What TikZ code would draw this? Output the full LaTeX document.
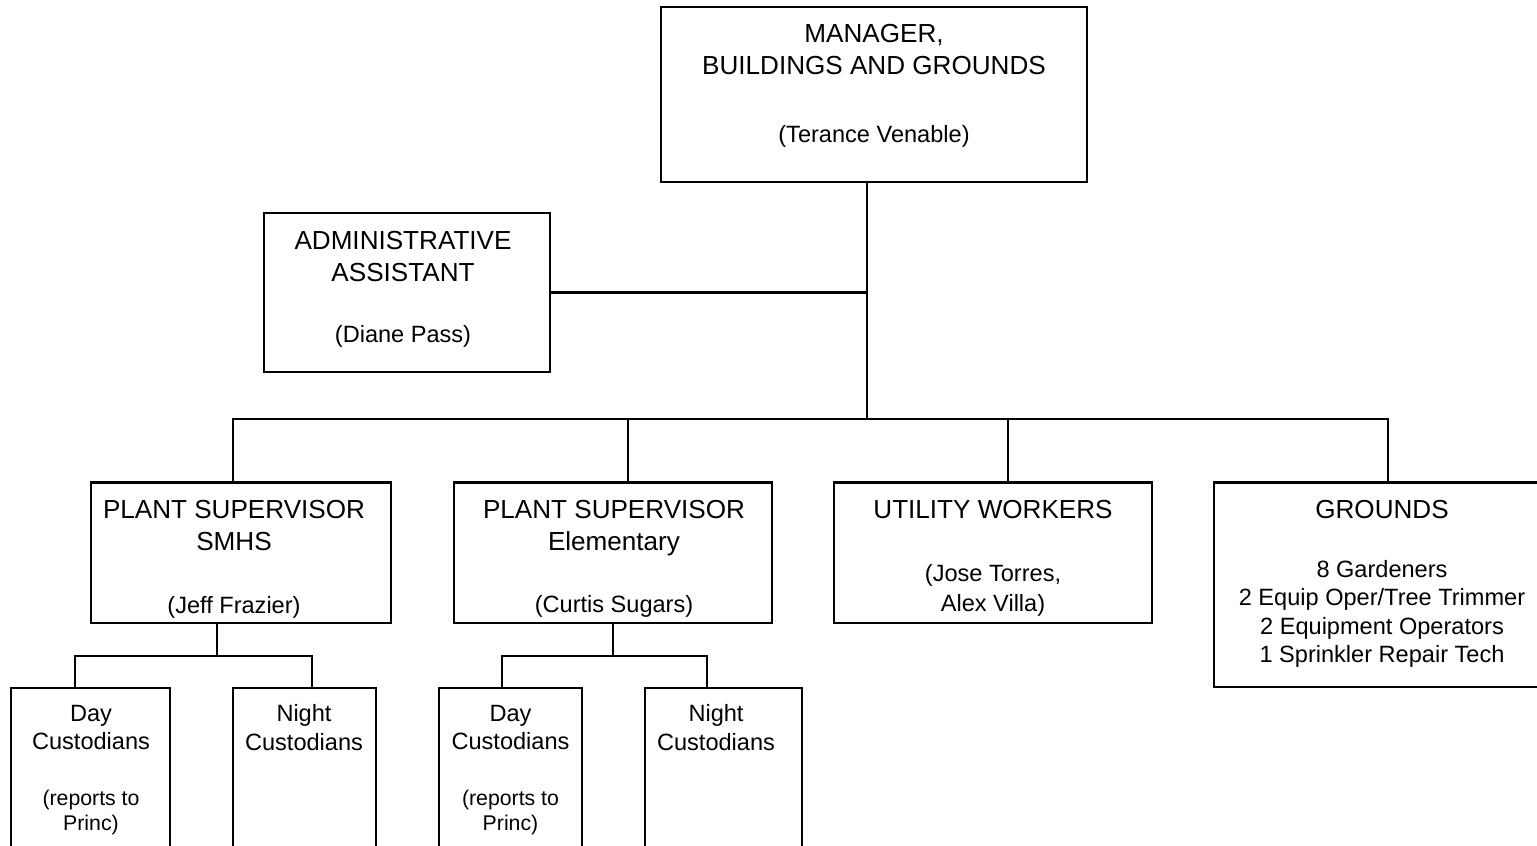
\documentclass[tikz,border=0pt]{standalone}
\usepackage{fontspec}
\setmainfont{Liberation Sans}
\usepackage{tikz}
\usetikzlibrary{calc}

\tikzset{
  box/.style={draw, line width=0.6pt, inner sep=0pt, outer sep=0pt},
  wire/.style={line width=0.6pt},
  head/.style={anchor=north, align=center, inner sep=0pt, font=\fontsize{7.42}{9.1}\selectfont},
  staff/.style={anchor=north, align=center, inner sep=0pt, font=\fontsize{6.7}{8.1}\selectfont},
  note/.style={anchor=north, align=center, inner sep=0pt, font=\fontsize{6.05}{7.1}\selectfont}
}

\begin{document}
\begin{tikzpicture}[x=0.01cm, y=-0.01cm, line join=miter]

% cornice
\useasboundingbox (0,0) rectangle (1537,845);
\clip (0,0) rectangle (1537,845);

% riquadri
\node[box, minimum width=4.26cm, minimum height=1.75cm] (mgr) at (874,94.5) {};
\node[box, minimum width=2.86cm, minimum height=1.59cm] (adm) at (407,292.5) {};
\node[box, minimum width=3.00cm, minimum height=1.405cm] (ps1) at (241,552.75) {};
\node[box, minimum width=3.18cm, minimum height=1.405cm] (ps2) at (613,552.75) {};
\node[box, minimum width=3.18cm, minimum height=1.405cm] (util) at (993,552.75) {};
\node[box, minimum width=3.46cm, minimum height=2.045cm] (grd) at (1387,584.75) {};
\node[box, minimum width=1.59cm, minimum height=1.92cm] (day1) at (90.5,784) {};
\node[box, minimum width=1.43cm, minimum height=1.92cm] (ngt1) at (304.5,784) {};
\node[box, minimum width=1.43cm, minimum height=1.92cm] (day2) at (510.5,784) {};
\node[box, minimum width=1.57cm, minimum height=1.92cm] (ngt2) at (723.5,784) {};

% testi
\node[head] (mgr-t) at (874,24) {MANAGER,\\BUILDINGS AND GROUNDS};
\node[staff] (mgr-n) at (874,124.5) {(Terance Venable)};
\node[head] (adm-t) at (403,231) {ADMINISTRATIVE\\ASSISTANT};
\node[staff] (adm-n) at (403,324.8) {(Diane Pass)};
\node[head] (ps1-t) at (234,500) {PLANT SUPERVISOR\\SMHS};
\node[staff] (ps1-n) at (234,595.3) {(Jeff Frazier)};
\node[head] (ps2-t) at (614,500) {PLANT SUPERVISOR\\Elementary};
\node[staff] (ps2-n) at (614,594.8) {(Curtis Sugars)};
\node[head] (util-t) at (993,500) {UTILITY WORKERS};
\node[staff, font=\fontsize{6.7}{8.5}\selectfont] (util-n) at (993,563.5) {(Jose Torres,\\Alex Villa)};
\node[head] (grd-t) at (1382,500) {GROUNDS};
\node[staff] (grd-n) at (1382,559.5) {8 Gardeners\\2 Equip Oper/Tree Trimmer\\2 Equipment Operators\\1 Sprinkler Repair Tech};
\node[staff] (day1-t) at (91,704.5) {Day\\Custodians};
\node[note] (day1-n) at (91,789.4) {(reports to\\Princ)};
\node[staff] (ngt1-t) at (304,704.2) {Night\\Custodians};
\node[staff] (day2-t) at (510.5,704.5) {Day\\Custodians};
\node[note] (day2-n) at (510.5,789.4) {(reports to\\Princ)};
\node[staff] (ngt2-t) at (716,704.2) {Night\\Custodians};

% collegamenti
\coordinate (trunk) at (867,419);
\coordinate (d1) at (233,419);
\coordinate (d2) at (628,419);
\coordinate (d3) at (1008,419);
\coordinate (d4) at (1388,419);

\draw[wire] (mgr.south -| trunk) -- (trunk);
\draw[wire] (adm.east) -- (adm.east -| trunk);
\draw[wire] (d1 |- ps1.north) -- (d1) -- (d4) -- (d4 |- grd.north);
\draw[wire] (d2) -- (d2 |- ps2.north);
\draw[wire] (d3) -- (d3 |- util.north);

% custodi
\coordinate (j1) at (217,656);
\coordinate (j1l) at (75,656);
\coordinate (j1r) at (312,656);
\draw[wire] (ps1.south -| j1) -- (j1);
\draw[wire] (j1l |- day1.north) -- (j1l) -- (j1r) -- (j1r |- ngt1.north);

\coordinate (j2) at (613,656);
\coordinate (j2l) at (502,656);
\coordinate (j2r) at (707,656);
\draw[wire] (ps2.south -| j2) -- (j2);
\draw[wire] (j2l |- day2.north) -- (j2l) -- (j2r) -- (j2r |- ngt2.north);

\end{tikzpicture}
\end{document}
